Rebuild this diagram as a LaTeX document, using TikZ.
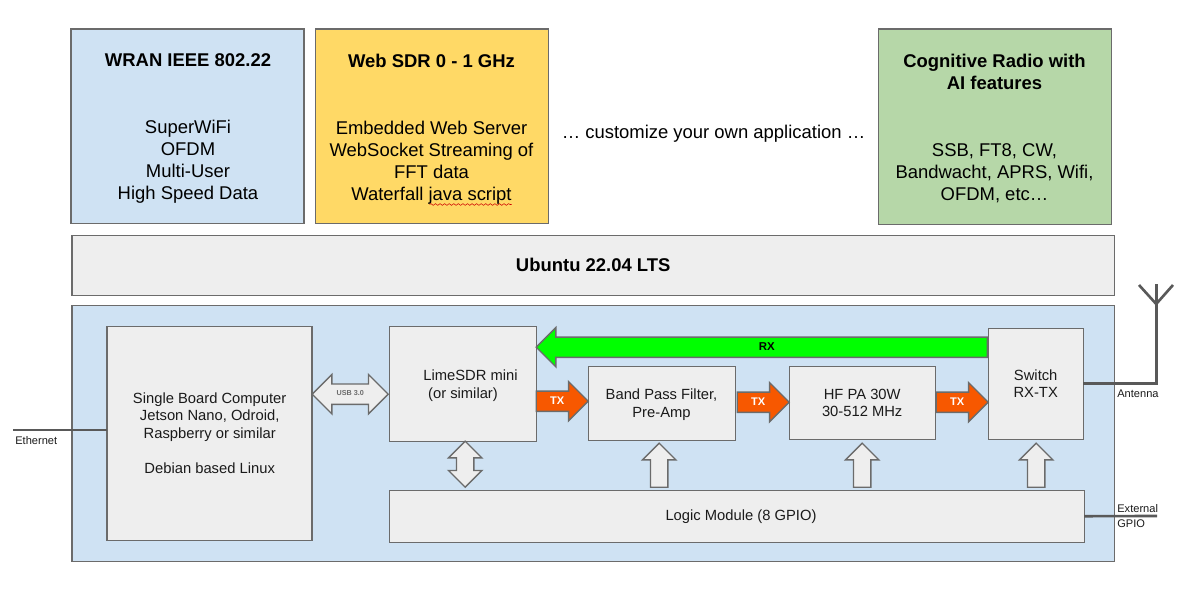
\documentclass[tikz,border=0pt]{standalone}
\usepackage{fontspec}
\setmainfont{Liberation Sans}
\usetikzlibrary{shapes.arrows}
\usetikzlibrary{decorations.pathmorphing}
\definecolor{boxline}{HTML}{6B6B6B}
\definecolor{wireline}{HTML}{595959}
\definecolor{paleblue}{HTML}{CFE2F3}
\definecolor{paleyellow}{HTML}{FFD966}
\definecolor{palegreen}{HTML}{B6D7A8}
\definecolor{palegray}{HTML}{EEEEEE}
\definecolor{rxgreen}{HTML}{00FF00}
\definecolor{txorange}{HTML}{F75800}
\definecolor{inktext}{HTML}{1A1A1A}
\tikzset{
	boxsize/.style 2 args={minimum width=#1*0.02cm,minimum height=#2*0.02cm},
	plainbox/.style={draw=boxline,line width=0.8pt,inner sep=0pt,outer sep=0pt,anchor=north west,align=center,text=inktext,font=\fontsize{8.4}{10}\selectfont},
	boxtext/.style={inner sep=0pt,align=center,text=inktext,font=\fontsize{8.4}{10}\selectfont},
	bigtext/.style={inner sep=0pt,align=center,text=black,font=\fontsize{10.5}{12.6}\selectfont},
	titletext/.style={bigtext,font=\fontsize{10.5}{12.6}\selectfont\bfseries},
	smalltext/.style={inner sep=0pt,anchor=base west,text=inktext,font=\fontsize{6.3}{8}\selectfont},
	wire/.style={draw=wireline,line width=1.5pt},
	blockarrow/.style={draw=boxline,line width=0.8pt,inner xsep=0pt,inner ysep=0pt,outer sep=0pt,
		text height=7.1pt,text depth=3.6pt,single arrow,single arrow head extend=0.19cm,single arrow tip angle=90,anchor=tip},
	txarrow/.style={blockarrow,fill=txorange,text=white,minimum height=52*0.02cm,font=\fontsize{6.3}{7}\selectfont\bfseries},
	uparrow/.style={draw=boxline,line width=0.8pt,fill=palegray,inner sep=0pt,outer sep=0pt,
		text height=5.6pt,text depth=3.5pt,single arrow,single arrow head extend=0.16cm,single arrow tip angle=90,anchor=tip,rotate=90,minimum height=44*0.02cm},
	bothways/.style={draw=boxline,line width=0.8pt,fill=palegray,inner sep=0pt,outer sep=0pt,double arrow,double arrow tip angle=90}
}
\begin{document}
\begin{tikzpicture}[x=0.02cm,y=-0.02cm]
	\useasboundingbox (0,0) rectangle (1184,592);
	\node[plainbox,fill=paleblue,boxsize={233}{194}] (wran) at (71.2,29.2) {};
	\node[plainbox,fill=paleyellow,boxsize={233}{194}] (websdr) at (315.2,29.2) {};
	\node[plainbox,fill=palegreen,boxsize={233}{195}] (cognitive) at (878.2,29.2) {};
	\node[plainbox,fill=palegray,boxsize={1042}{60},font=\fontsize{10.5}{12.6}\selectfont\bfseries,text=black] (ubuntu) at (72.2,235.2) {Ubuntu 22.04 LTS};
	\node[plainbox,fill=paleblue,boxsize={1042}{256}] (board) at (72.2,305.2) {};

	\node[titletext] (wrantitle) at (188,60) {WRAN IEEE 802.22};
	\node[bigtext] (wranbody) at (188,162) {SuperWiFi\\OFDM\\Multi-User\\High Speed Data};
	\node[titletext] (websdrtitle) at (431.5,61) {Web SDR 0 - 1 GHz};
	\node[bigtext] (websdrbody) at (431.5,163) {Embedded Web Server\\WebSocket Streaming of\\FFT data\\Waterfall java script};
	\coordinate (squigglea) at (429.5,204.5);
	\coordinate (squiggleb) at (511.5,204.5);
	\draw[red!80!black,line width=0.3pt,decorate,decoration={snake,amplitude=0.5pt,segment length=2.6pt}] (squigglea) -- (squiggleb);
	\node[bigtext] (customize) at (713.5,134) {… customize your own application …};
	\node[titletext] (cognitivetitle) at (994.5,72) {Cognitive Radio with\\AI features};
	\node[bigtext] (cognitivebody) at (994.5,173) {SSB, FT8, CW,\\Bandwacht, APRS, Wifi,\\OFDM, etc…};

	\node[plainbox,fill=palegray,boxsize={205}{214}] (sbc) at (107.2,326.2) {Single Board Computer\\Jetson Nano, Odroid,\\Raspberry or similar\\[10pt]Debian based Linux};
	\node[plainbox,fill=palegray,boxsize={147}{115}] (lime) at (389.2,326.2) {};
	\node[boxtext] (limetext) at (463,385.5) {\hspace*{8.5pt}LimeSDR mini\\(or similar)};
	\node[plainbox,fill=palegray,boxsize={147}{74}] (bpf) at (588.2,366.2) {};
	\node[boxtext] (bpftext) at (661.5,404.5) {Band Pass Filter,\\Pre-Amp};
	\node[plainbox,fill=palegray,boxsize={146}{73}] (pa) at (789.2,366.2) {HF PA 30W\\30-512 MHz};
	\node[plainbox,fill=palegray,boxsize={95}{111}] (switch) at (988.2,328.2) {Switch\\RX-TX};
	\node[plainbox,fill=palegray,boxsize={695}{52}] (logic) at (389.2,490.2) {};
	\node[boxtext] (logictext) at (741,516.5) {Logic Module (8 GPIO)};

	\node[blockarrow,fill=rxgreen,minimum height=451*0.02cm,font=\fontsize{6.5}{7}\selectfont\bfseries,shape border rotate=180] (rxpath) at (536.2,347.2) {RX};
	\node[txarrow] (txa) at (588.2,401.2) {TX};
	\node[txarrow] (txb) at (789.2,402.2) {TX};
	\node[txarrow] (txc) at (988.2,402.2) {TX};
	\node[bothways,text height=5.9pt,text depth=4.9pt,minimum height=76*0.02cm,double arrow head extend=0.19cm,font=\fontsize{4.1}{5}\selectfont\bfseries,text=boxline] (usb) at (350.2,394.2) {USB 3.0};
	\node[bothways,rotate=90,text height=5.6pt,text depth=3.5pt,minimum height=46*0.02cm,double arrow head extend=0.16cm] (limelogic) at (465.2,464.2) {};
	\node[uparrow] (logicbpf) at (659.2,443.2) {};
	\node[uparrow] (logicpa) at (862.2,443.2) {};
	\node[uparrow] (logicswitch) at (1036.2,443.2) {};

	\coordinate (antfoot) at (1156.2,383.7);
	\coordinate (anttop) at (1156.2,284);
	\coordinate (antfork) at (1156.2,304);
	\coordinate (antleft) at (1139,285);
	\coordinate (antright) at (1173,285);
	\coordinate (gpioend) at (1157,516);
	\coordinate (ethend) at (13,430);
	\draw[wire] (switch.east) -- (antfoot) -- (anttop);
	\draw[wire] (antleft) -- (antfork) -- (antright);
	\draw[wire] (logic.east) -- (gpioend);
	\draw[wire] (sbc.west |- ethend) -- (ethend);
	\node[smalltext] (antenna) at (1117,397) {Antenna};
	\node[smalltext] (external) at (1117,512) {External};
	\node[smalltext] (gpio) at (1117,527) {GPIO};
	\node[smalltext] (ethernet) at (15,444) {Ethernet};
\end{tikzpicture}
\end{document}
